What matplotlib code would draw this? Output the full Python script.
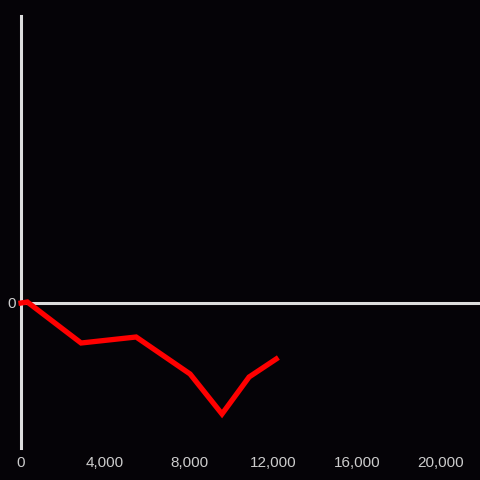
import matplotlib
matplotlib.use("Agg")
from matplotlib import pyplot as plt
from matplotlib.ticker import FuncFormatter

# data (y in arbitrary units, 0 = baseline)
xs = [0, 300, 2860, 5480, 8050, 9570, 10860, 12150]
ys = [0, 1, -40, -34, -71, -111, -74, -56]
xticks = [0, 4000, 8000, 12000, 16000, 20000]

bg = "#050307"
fg = "#dddddd"

plt.rcParams["font.family"] = ["Liberation Sans", "DejaVu Sans"]

fig = plt.figure(figsize=(4.8, 4.8), dpi=100, facecolor=bg)
ax = fig.add_axes([20/480, 32/480, 460/480, 432/480], facecolor=bg)

ax.axhline(0, color=fg, lw=2.2, zorder=1)
ax.plot(xs, ys, color="#ff0000", lw=3.8, solid_joinstyle="miter", zorder=3, clip_on=False)

ax.set_xlim(-50, 21857)
ax.set_ylim(-145, 287)

for s in ["top", "right", "bottom"]:
    ax.spines[s].set_visible(False)
ax.spines["left"].set_color(fg)
ax.spines["left"].set_linewidth(2.2)
ax.spines["left"].set_position(("data", 0))
ax.spines["left"].set_zorder(2)

ax.set_xticks(xticks)
ax.xaxis.set_major_formatter(FuncFormatter(lambda v, p: f"{int(v):,}"))
ax.set_yticks([0])
ax.tick_params(length=0, colors="#cccccc", labelsize=11)
ax.tick_params(axis="x", pad=6)
ax.tick_params(axis="y", pad=4)

fig.savefig("out.png", dpi=100, facecolor=bg)
